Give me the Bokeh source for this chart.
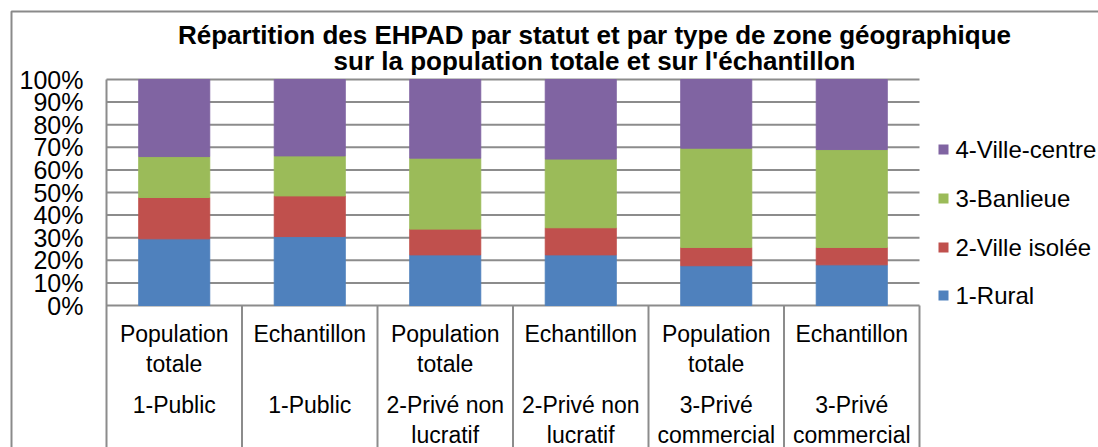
from bokeh.plotting import figure
from bokeh.models import Range1d, ColumnDataSource
from bokeh.core.properties import value
from bokeh.embed import file_html
from bokeh.resources import INLINE

# ---------------- data ----------------
categories = ["Population\ntotale", "Echantillon", "Population\ntotale",
              "Echantillon", "Population\ntotale", "Echantillon"]
groups = ["1-Public", "1-Public", "2-Privé non\nlucratif", "2-Privé non\nlucratif",
          "3-Privé\ncommercial", "3-Privé\ncommercial"]
series_names = ["1-Rural", "2-Ville isolée", "3-Banlieue", "4-Ville-centre"]
rural = [29.5, 30.5, 22.4, 22.4, 17.6, 18.0]
ville_isolee = [18.3, 18.0, 11.4, 12.0, 8.1, 7.7]
banlieue = [18.1, 17.7, 31.4, 30.4, 43.9, 43.3]
ville_centre = [34.1, 33.8, 34.8, 35.2, 30.4, 31.0]
y_ticks = [0, 10, 20, 30, 40, 50, 60, 70, 80, 90, 100]
y_tick_labels = [f"{t}%" for t in y_ticks]
title_lines = ["Répartition des EHPAD par statut et par type de zone géographique",
               "sur la population totale et sur l'échantillon"]
colors = ["#4F81BD", "#C0504D", "#9BBB59", "#8064A2"]

# ---------------- layout helpers (page pixels -> data) ----------------
X0, XU = 106.0, 135.5   # page x of first category edge, px per category
Y0, YU = 305.0, 2.26    # page y of 0 %, px per percent
W, H = 1098, 447


def dx(px):
    return (px - X0) / XU


def dy(py):
    return (Y0 - py) / YU


FONT = value("Liberation Sans")
GRID = "#8c8c8c"

p = figure(width=W, height=H,
           x_range=Range1d(dx(0), dx(W)), y_range=Range1d(dy(H), dy(0)),
           output_backend="svg", toolbar_location=None,
           x_axis_location=None, y_axis_location=None, min_border=0)
p.outline_line_color = None
p.grid.visible = False
p.background_fill_color = "white"
p.border_fill_color = "white"

n = len(categories)
xs = [i + 0.5 for i in range(n)]
edges = list(range(n + 1))

# chart border (left + top)
p.line(x=[dx(11), dx(11), dx(1110)], y=[dy(470), dy(11), dy(11)],
       line_color="#8a8a8a", line_width=2)

# horizontal gridlines
p.segment(x0=[0] * len(y_ticks), x1=[n] * len(y_ticks), y0=y_ticks, y1=y_ticks,
          line_color=GRID, line_width=2)
# left axis line + category table separators
p.segment(x0=[0], x1=[0], y0=[dy(470)], y1=[100], line_color=GRID, line_width=2)
p.segment(x0=edges[1:], x1=edges[1:], y0=[dy(470)] * n, y1=[0] * n,
          line_color=GRID, line_width=2)

# stacked bars
src = ColumnDataSource(dict(x=xs, rural=rural, iso=ville_isolee,
                            ban=banlieue, centre=ville_centre))
p.vbar_stack(["rural", "iso", "ban", "centre"], x="x", width=0.524,
             color=colors, source=src)

# y tick labels
p.text(x=[dx(83)] * len(y_ticks), y=y_ticks, text=y_tick_labels,
       text_align="right", text_baseline="middle", text_font=FONT,
       text_font_size=value("25px"), text_color="black")

# category labels (two levels)
p.text(x=xs, y=[dy(320)] * n, text=categories, text_align="center",
       text_baseline="top", text_font=FONT, text_font_size=value("23px"),
       text_line_height=1.17, text_color="black")
p.text(x=xs, y=[dy(391)] * n, text=groups, text_align="center",
       text_baseline="top", text_font=FONT, text_font_size=value("23px"),
       text_line_height=1.17, text_color="black")

# legend (top = last series)
leg_y = [dy(295), dy(247), dy(198), dy(149)]
p.scatter(x=[dx(943)] * 4, y=leg_y, marker="square", size=10,
          fill_color=colors, line_color=None)
p.text(x=[dx(955)] * 4, y=leg_y, text=series_names, text_align="left",
       text_baseline="middle", text_font=FONT, text_font_size=value("24px"),
       text_color="black")

# title
p.text(x=[dx(594)] * 2, y=[dy(34), dy(60)], text=title_lines,
       text_align="center", text_baseline="middle", text_font=FONT,
       text_font_style="bold", text_font_size=value("26px"), text_color="black")

open("out.html", "w").write(file_html(p, INLINE))
